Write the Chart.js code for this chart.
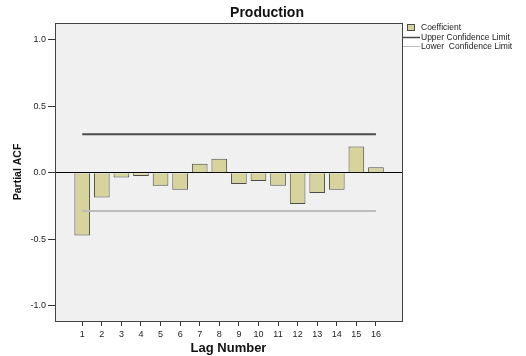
<!DOCTYPE html>
<html>
<head>
<meta charset="utf-8">
<script src="https://cdn.jsdelivr.net/npm/chart.js"></script>
<style>
  html, body { margin: 0; padding: 0; background: #fff; }
  #wrap { width: 526px; height: 356px; position: relative; }
</style>
</head>
<body>
<div id="wrap"><canvas id="pacf"></canvas></div>
<script>
const chartTitle = "Production";
const lags = [1, 2, 3, 4, 5, 6, 7, 8, 9, 10, 11, 12, 13, 14, 15, 16];
const coefficients = [-0.472, -0.187, -0.037, -0.025, -0.098, -0.128, 0.067, 0.105,
                      -0.085, -0.063, -0.098, -0.235, -0.153, -0.128, 0.197, 0.040];
const upperLimit = 0.289;
const lowerLimit = -0.289;
const yTicks = [-1.0, -0.5, 0.0, 0.5, 1.0];
const legendLabels = ["Coefficient", "Upper Confidence Limit", "Lower  Confidence Limit"];

const FONT = "'Liberation Sans', Arial, sans-serif";
const barFill = "#d6d39d";
const barEdge = "#4d4d45";
const upperColor = "#4a4a4a";
const lowerColor = "#bdbdbd";

// plot background, frame, title and legend
const decor = {
  id: "decor",
  beforeDraw(chart) {
    const a = chart.chartArea, c = chart.ctx;
    c.save();
    c.fillStyle = "#f0f0f0";
    c.fillRect(a.left, a.top, a.right - a.left, a.bottom - a.top);
    c.restore();
  },
  afterDraw(chart) {
    const a = chart.chartArea, c = chart.ctx;
    c.save();
    c.strokeStyle = "#444";
    c.lineWidth = 1;
    c.strokeRect(a.left + 0.5, a.top + 0.5, a.right - a.left, a.bottom - a.top);

    c.fillStyle = "#111";
    c.font = "bold 14px " + FONT;
    c.textAlign = "center";
    c.textBaseline = "middle";
    c.fillText(chartTitle, 267, 13);

    // legend
    c.font = "8.5px " + FONT;
    c.textAlign = "left";
    c.fillStyle = barFill;
    c.fillRect(407, 24, 8, 7);
    c.strokeStyle = barEdge;
    c.strokeRect(407.5, 24.5, 7, 6);
    c.fillStyle = "#222";
    c.fillText(legendLabels[0], 421, 28);

    c.strokeStyle = upperColor;
    c.lineWidth = 1.5;
    c.beginPath(); c.moveTo(403, 37.5); c.lineTo(420, 37.5); c.stroke();
    c.fillText(legendLabels[1], 421, 37.5);

    c.strokeStyle = lowerColor;
    c.lineWidth = 1;
    c.beginPath(); c.moveTo(403, 46.5); c.lineTo(420, 46.5); c.stroke();
    c.fillText(legendLabels[2], 421, 46.5);
    c.restore();
  }
};

new Chart(document.getElementById("pacf").getContext("2d"), {
  data: {
    datasets: [
      {
        type: "bar",
        label: legendLabels[0],
        data: lags.map((l, i) => ({ x: l, y: coefficients[i] })),
        backgroundColor: barFill,
        borderColor: barEdge,
        borderWidth: 1,
        barPercentage: 1.0,
        categoryPercentage: 0.8,
        order: 2
      },
      {
        type: "line",
        label: legendLabels[1],
        data: [{ x: lags[0], y: upperLimit }, { x: lags[lags.length - 1], y: upperLimit }],
        borderColor: upperColor,
        borderWidth: 2,
        pointRadius: 0,
        order: 1
      },
      {
        type: "line",
        label: legendLabels[2],
        data: [{ x: lags[0], y: lowerLimit }, { x: lags[lags.length - 1], y: lowerLimit }],
        borderColor: lowerColor,
        borderWidth: 2,
        pointRadius: 0,
        order: 1
      }
    ]
  },
  options: {
    responsive: true,
    maintainAspectRatio: false,
    animation: false,
    layout: { padding: { top: 23, right: 124, left: 0, bottom: 0 } },
    plugins: {
      legend: { display: false },
      title: { display: false },
      tooltip: { enabled: false }
    },
    scales: {
      x: {
        type: "linear",
        offset: false,
        min: -0.39,
        max: 17.33,
        afterBuildTicks: (s) => { s.ticks = lags.map(v => ({ value: v })); },
        afterFit: (s) => { s.height = 35; },
        grid: { offset: false, drawOnChartArea: false, drawTicks: true, tickLength: 5, tickColor: "#333" },
        border: { display: true, color: "#444" },
        ticks: { color: "#222", font: { family: FONT, size: 9 }, padding: 3, maxRotation: 0, autoSkip: false },
        title: { display: true, text: "Lag Number", color: "#111",
                 font: { family: FONT, size: 13, weight: "bold" }, padding: { top: 0, bottom: 0 } }
      },
      y: {
        min: -1.115,
        max: 1.125,
        afterBuildTicks: (s) => { s.ticks = yTicks.map(v => ({ value: v })); },
        afterFit: (s) => { s.width = 55; },
        grid: {
          drawOnChartArea: true,
          drawTicks: true,
          tickLength: 7,
          tickColor: "#333",
          color: (ctx) => (ctx.tick && ctx.tick.value === 0 ? "#000" : "rgba(0,0,0,0)"),
          lineWidth: 1
        },
        border: { display: true, color: "#444" },
        ticks: {
          color: "#222",
          font: { family: FONT, size: 9 },
          padding: 2,
          callback: (v) => v.toFixed(1)
        },
        title: { display: true, text: "Partial ACF", color: "#111",
                 font: { family: FONT, size: 10.5, weight: "bold" }, padding: { top: 12, bottom: 0 } }
      }
    }
  },
  plugins: [decor]
});
</script>
</body>
</html>
